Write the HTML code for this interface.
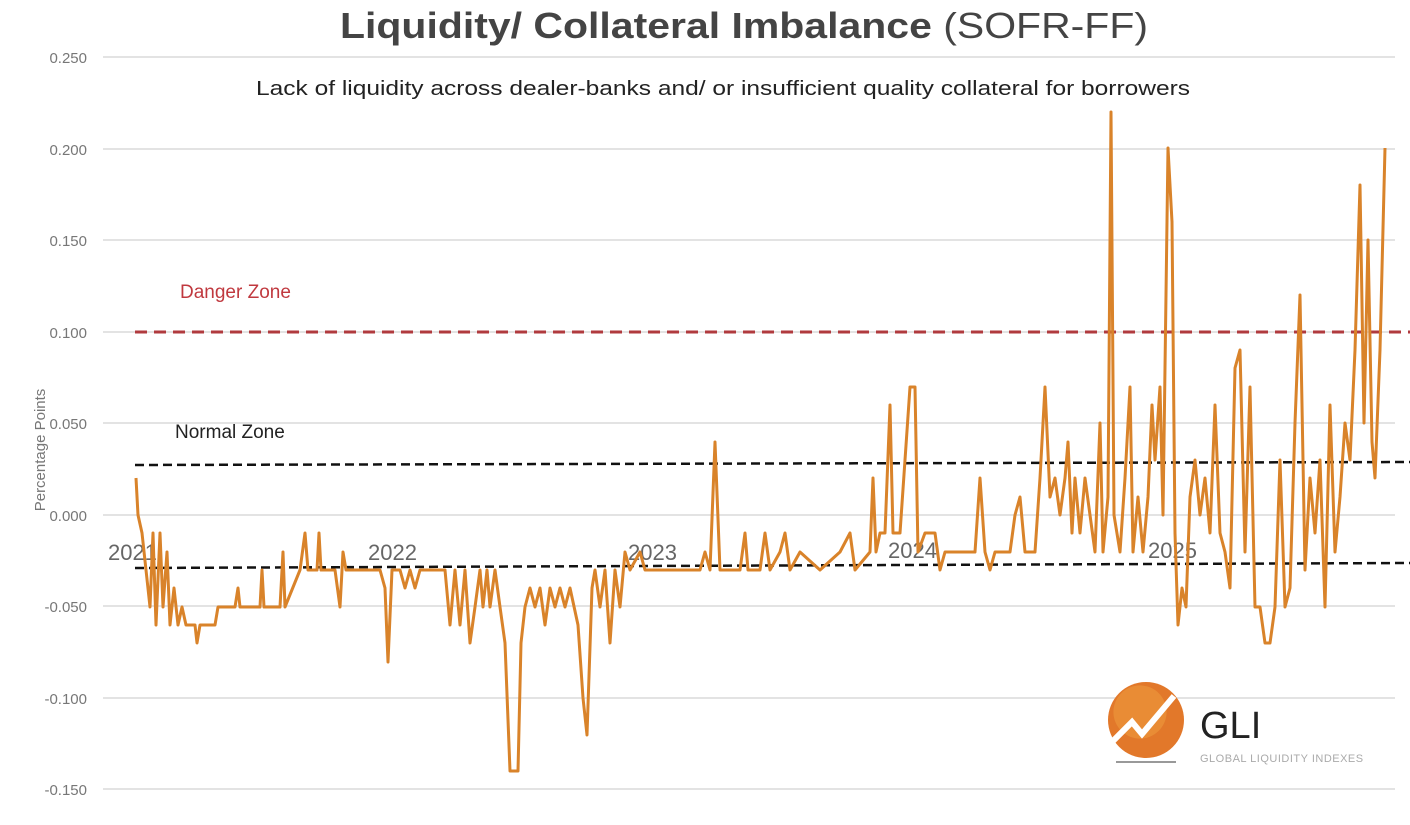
<!DOCTYPE html>
<html><head><meta charset="utf-8"><style>
html,body{margin:0;padding:0;background:#fff;}
svg{display:block;font-family:"Liberation Sans",sans-serif;}
</style></head><body>
<svg width="1410" height="825" viewBox="0 0 1410 825" xmlns="http://www.w3.org/2000/svg">
<rect width="1410" height="825" fill="#fff"/>
<g stroke="#e3e3e3" stroke-width="2">
<line x1="103" x2="1395" y1="57" y2="57"/>
<line x1="103" x2="1395" y1="149" y2="149"/>
<line x1="103" x2="1395" y1="240" y2="240"/>
<line x1="103" x2="1395" y1="332" y2="332"/>
<line x1="103" x2="1395" y1="423" y2="423"/>
<line x1="103" x2="1395" y1="515" y2="515"/>
<line x1="103" x2="1395" y1="606" y2="606"/>
<line x1="103" x2="1395" y1="698" y2="698"/>
<line x1="103" x2="1395" y1="789" y2="789"/>
</g>
<g fill="#777" font-size="15" text-anchor="end">
<text x="87" y="63">0.250</text><text x="87" y="155">0.200</text><text x="87" y="246">0.150</text>
<text x="87" y="338">0.100</text><text x="87" y="429">0.050</text><text x="87" y="521">0.000</text>
<text x="87" y="612">-0.050</text><text x="87" y="704">-0.100</text><text x="87" y="795">-0.150</text>
</g>
<text transform="translate(45,450) rotate(-90)" text-anchor="middle" font-size="15" fill="#777">Percentage Points</text>
<text x="340" y="38" font-size="36" fill="#444" textLength="808" lengthAdjust="spacingAndGlyphs"><tspan font-weight="bold">Liquidity/ Collateral Imbalance</tspan> (SOFR-FF)</text>
<text x="256" y="95" font-size="20" fill="#222" textLength="934" lengthAdjust="spacingAndGlyphs">Lack of liquidity across dealer-banks and/ or insufficient quality collateral for borrowers</text>
<text x="180" y="298" font-size="19" fill="#c0393f">Danger Zone</text>
<text x="175" y="438" font-size="19" fill="#222">Normal Zone</text>
<g fill="#666" font-size="22">
<text x="108" y="560">2021</text><text x="368" y="560">2022</text><text x="628" y="560">2023</text>
<text x="888" y="558">2024</text><text x="1148" y="558">2025</text>
</g>
<line x1="135" x2="1410" y1="332" y2="332" stroke="#b03a3e" stroke-width="3" stroke-dasharray="12,7"/>
<line x1="135" x2="1410" y1="465" y2="462" stroke="#111" stroke-width="2.5" stroke-dasharray="9,5"/>
<line x1="135" x2="1410" y1="568" y2="563" stroke="#111" stroke-width="2.5" stroke-dasharray="9,5"/>
<polyline fill="none" stroke="#d9832a" stroke-width="3" stroke-linejoin="round" points="136,478 138,515 142,533 146,570 150,607 153,533 156,625 160,533 163,607 167,552 170,625 174,588 178,625 182,607 186,625 195,625 197,643 200,625 215,625 218,607 235,607 238,588 240,607 260,607 262,570 264,607 280,607 283,552 285,607 300,570 305,533 308,570 317,570 319,533 321,570 335,570 340,607 343,552 346,570 380,570 385,588 388,662 392,570 400,570 405,588 410,570 415,588 420,570 445,570 450,625 455,570 460,625 465,570 470,643 475,607 480,570 483,607 487,570 490,607 495,570 500,607 505,643 510,771 518,771 521,643 525,607 530,588 535,607 540,588 545,625 550,588 555,607 560,588 565,607 570,588 578,625 583,698 587,735 592,588 595,570 600,607 605,570 610,643 615,570 620,607 625,552 630,570 640,552 645,570 700,570 705,552 710,570 715,442 720,570 740,570 745,533 748,570 760,570 765,533 770,570 780,552 785,533 790,570 800,552 820,570 840,552 850,533 855,570 870,552 873,478 876,552 880,533 885,533 890,405 893,533 900,533 910,387 915,387 918,552 925,533 935,533 940,570 945,552 975,552 980,478 985,552 990,570 995,552 1010,552 1015,515 1020,497 1025,552 1035,552 1040,478 1045,387 1050,497 1055,478 1060,515 1065,478 1068,442 1072,533 1075,478 1080,533 1085,478 1090,515 1095,552 1100,423 1103,552 1108,497 1111,112 1114,515 1120,552 1125,478 1130,387 1133,552 1138,497 1143,552 1148,497 1152,405 1155,460 1160,387 1163,515 1168,148 1172,222 1175,533 1178,625 1182,588 1186,607 1190,497 1195,460 1200,515 1205,478 1210,533 1215,405 1220,533 1225,552 1230,588 1235,368 1240,350 1245,552 1250,387 1255,607 1260,607 1265,643 1270,643 1275,607 1280,460 1285,607 1290,588 1295,423 1300,295 1305,570 1310,478 1315,533 1320,460 1325,607 1330,405 1335,552 1340,497 1345,423 1350,460 1355,350 1360,185 1364,423 1368,240 1372,442 1375,478 1380,350 1385,148"/>
<g transform="translate(1146,720)">
<circle r="38" fill="#e2782a"/>
<circle r="38" fill="#f0a040" opacity="0.5" transform="translate(-6,-8) scale(0.7)"/>
<polyline points="-34,22 -14,2 -4,14 28,-24" fill="none" stroke="#fff" stroke-width="6"/>
<line x1="-30" x2="30" y1="42" y2="42" stroke="#999" stroke-width="2"/>
</g>
<text x="1200" y="738" font-size="38" fill="#222">GLI</text>
<text x="1200" y="762" font-size="11" fill="#aaa" letter-spacing="0.5">GLOBAL LIQUIDITY INDEXES</text>
</svg>
</body></html>
